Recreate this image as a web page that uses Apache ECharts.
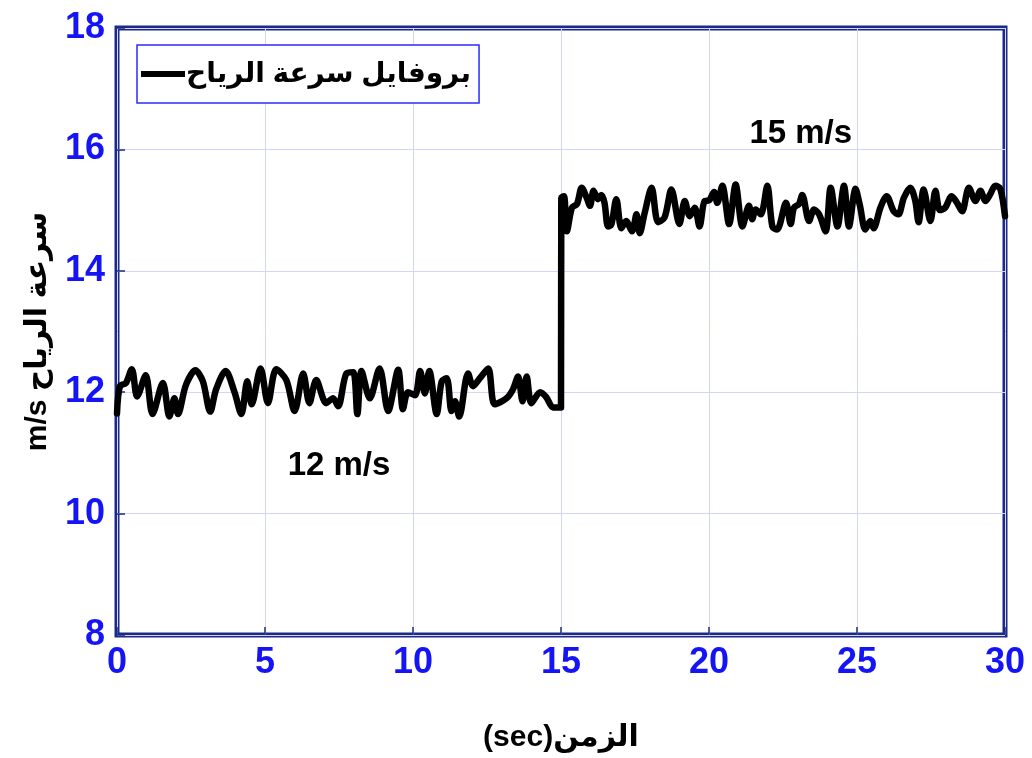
<!DOCTYPE html>
<html dir="ltr">
<head>
<meta charset="utf-8">
<script src="https://cdn.jsdelivr.net/npm/echarts@6/dist/echarts.min.js"></script>
<style>html,body{margin:0;padding:0;background:#fff;overflow:hidden}#c{width:1032px;height:758px}</style>
</head>
<body>
<div id="c"></div>
<script>
// ---- data ----
const seriesName = 'بروفايل سرعة الرياح';
const xAxisName = '(sec)الزمن';
const yAxisName = 'm/s سرعة الرياح';
const xTicks = [0, 5, 10, 15, 20, 25, 30];
const yTicks = [8, 10, 12, 14, 16, 18];
const time1 = [0,0.1,0.3,0.5,0.68,0.97,1.2,1.55,1.77,1.94,2.06,2.33,2.65,2.9,3.15,3.35,3.67,3.97,4.2,4.4,4.55,4.85,5.1,5.38,5.72,6.0,6.29,6.5,6.73,7.07,7.3,7.47,7.75,7.98,8.12,8.26,8.54,8.87,9.16,9.5,9.66,9.83,10.07,10.24,10.4,10.55,10.8,10.97,11.14,11.3,11.42,11.56,11.86,12.03,12.26,12.54,12.76,13.16,13.38,13.55,13.7,13.84,14.0,14.3,14.5,14.73,15.0];
const speed1 = [11.65,12.1,12.15,12.38,11.93,12.28,11.64,12.15,11.6,11.9,11.64,12.12,12.36,12.18,11.68,12.05,12.35,12.0,11.64,12.18,11.8,12.39,11.82,12.38,12.2,11.69,12.31,11.82,12.2,11.82,11.9,11.77,12.31,12.33,11.64,12.35,11.9,12.39,11.69,12.37,11.72,12.0,11.95,12.35,11.98,12.35,11.64,12.18,12.23,11.69,11.85,11.6,12.31,12.1,12.23,12.39,11.8,11.9,12.05,12.26,11.85,12.26,11.82,12.0,11.92,11.75,11.75];
const time2 = [15.01,15.1,15.2,15.37,15.54,15.7,15.87,15.98,16.1,16.25,16.36,16.47,16.59,16.7,16.87,17.04,17.2,17.4,17.55,17.66,17.83,18.06,18.28,18.5,18.73,19.0,19.18,19.35,19.52,19.68,19.85,20.0,20.17,20.28,20.45,20.68,20.9,21.13,21.35,21.46,21.58,21.75,21.97,22.14,22.3,22.6,22.76,22.87,23.04,23.15,23.38,23.55,23.72,23.94,24.11,24.34,24.56,24.73,24.95,25.1,25.28,25.45,25.56,25.79,26.0,26.24,26.4,26.58,26.8,26.97,27.08,27.25,27.48,27.65,27.8,27.98,28.2,28.38,28.55,28.78,29.0,29.17,29.34,29.5,29.67,29.84,30.0];
const speed2 = [15.2,15.23,14.65,15.04,15.1,15.37,15.2,15.07,15.32,15.18,15.25,15.12,14.73,14.76,15.18,14.7,14.82,14.65,14.93,14.62,14.96,15.37,14.8,14.88,15.34,14.77,15.15,14.9,15.04,14.73,15.15,15.16,15.3,15.12,15.4,14.77,15.42,14.73,15.07,14.85,15.01,14.93,15.4,14.73,14.68,15.12,14.77,15.04,15.1,15.25,14.82,15.01,14.93,14.65,15.37,14.73,15.4,14.73,15.35,15.07,14.68,14.82,14.7,15.04,15.23,14.98,14.93,15.2,15.37,15.15,14.8,15.34,14.82,15.32,15.0,15.04,15.23,15.12,14.98,15.37,15.15,15.32,15.15,15.26,15.4,15.35,14.9];
const notes = [
  {text: '12 m/s', t: 7.5, v: 10.78},
  {text: '15 m/s', t: 23.1, v: 16.25}
];

// ---- build ----
const times = time1.concat(time2);
const speeds = speed1.concat(speed2);
const lineData = times.map((t, i) => [t, speeds[i]]);

const navy = '#1b2a86';
const tickBlue = '#1414f5';
const font = "Arial, 'Liberation Sans', 'DejaVu Sans', sans-serif";

const chart = echarts.init(document.getElementById('c'), null, {renderer: 'canvas', width: 1032, height: 758});
chart.setOption({
  animation: false,
  backgroundColor: '#fff',
  grid: {left: 117, width: 888, top: 28, height: 607, show: true, borderColor: navy, borderWidth: 5, backgroundColor: 'transparent'},
  legend: {
    left: 137, top: 45,
    data: [seriesName],
    backgroundColor: '#fff',
    borderColor: '#2b2bff', borderWidth: 1.5,
    padding: [15, 8, 15, 4],
    icon: 'rect', itemWidth: 44, itemHeight: 6, itemGap: 2,
    itemStyle: {color: '#000'},
    textStyle: {fontFamily: font, fontWeight: 'bold', fontSize: 28, color: '#000', padding: [0, 0, 0, -4]}
  },
  xAxis: {
    type: 'value', min: xTicks[0], max: xTicks[xTicks.length - 1], interval: 5,
    name: xAxisName, nameLocation: 'middle', nameGap: 88,
    nameTextStyle: {fontFamily: font, fontWeight: 'bold', fontSize: 30, color: '#000'},
    axisLine: {show: false},
    axisTick: {show: true, inside: true, length: 8, lineStyle: {color: navy, width: 1.5}},
    axisLabel: {fontFamily: font, fontWeight: 'bold', fontSize: 36, color: tickBlue, margin: 10},
    splitLine: {show: true, lineStyle: {color: '#d4d4f8', width: 1}}
  },
  yAxis: {
    type: 'value', min: yTicks[0], max: yTicks[yTicks.length - 1], interval: 2,
    name: yAxisName, nameLocation: 'middle', nameGap: 64, nameRotate: 90,
    nameTextStyle: {fontFamily: font, fontWeight: 'bold', fontSize: 30, color: '#000'},
    axisLine: {show: false},
    axisTick: {show: true, inside: true, length: 8, lineStyle: {color: navy, width: 1.5}},
    axisLabel: {fontFamily: font, fontWeight: 'bold', fontSize: 36, color: tickBlue, margin: 12},
    splitLine: {show: true, lineStyle: {color: '#d4d4f8', width: 1}}
  },
  series: [{
    name: seriesName,
    type: 'line',
    data: lineData,
    showSymbol: false,
    symbol: 'none',
    smooth: 0.3,
    lineStyle: {color: '#000', width: 6.5, join: 'round', cap: 'round'},
    itemStyle: {color: '#000'},
    markPoint: {
      symbol: 'circle', symbolSize: 0,
      silent: true,
      label: {show: true, position: 'inside', fontFamily: font, fontWeight: 'bold', fontSize: 33, color: '#000',
              formatter: p => p.name},
      data: notes.map(n => ({name: n.text, coord: [n.t, n.v]}))
    }
  }]
});
</script>
</body>
</html>
